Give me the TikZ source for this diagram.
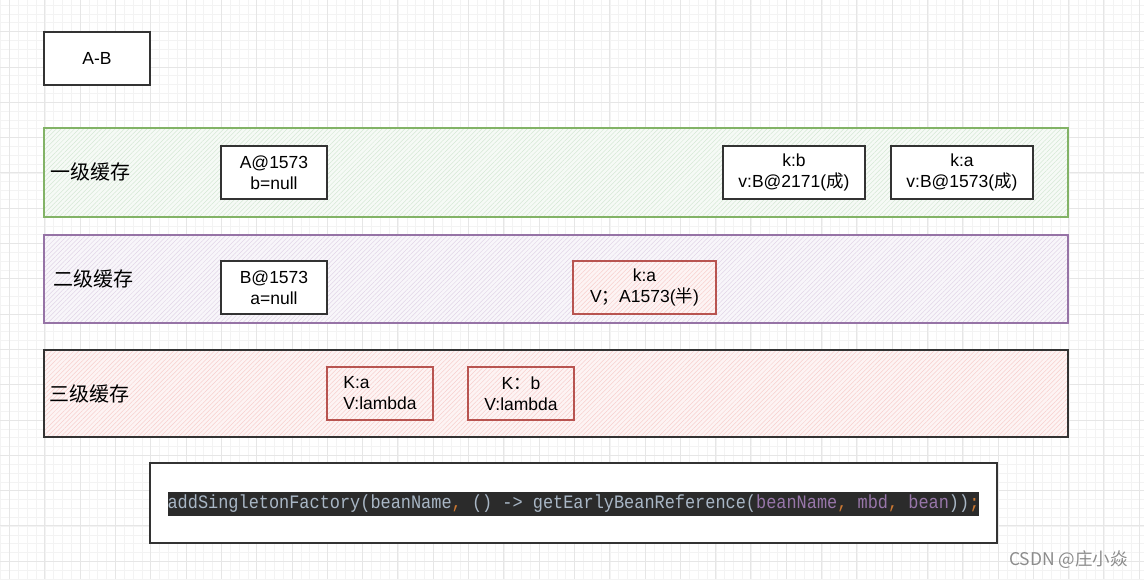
\documentclass[tikz,border=0pt]{standalone}
\usepackage{fontspec}
\setmainfont{Liberation Sans}
\newfontfamily\cjkfont{Noto Sans CJK SC}
\newfontfamily\codefont[FakeStretch=0.89]{Liberation Mono}
\usetikzlibrary{patterns.meta}

\definecolor{gridminor}{HTML}{F3F3F3}
\definecolor{gridmajor}{HTML}{E6E6E6}
\definecolor{greenline}{HTML}{82B366}
\definecolor{greenhatch}{HTML}{D5E8D4}
\definecolor{purpleline}{HTML}{9673A6}
\definecolor{purplehatch}{HTML}{E1D5E7}
\definecolor{redline}{HTML}{B85450}
\definecolor{redhatch}{HTML}{F8CECC}
\definecolor{boxline}{HTML}{333333}
\definecolor{codebg}{HTML}{2B2B2B}
\definecolor{codefg}{HTML}{A9B7C6}
\definecolor{codeorange}{HTML}{CC7832}
\definecolor{codepurple}{HTML}{9876AA}

\tikzset{
  cellbox/.style={draw=boxline,line width=1.2pt,fill=white,inner sep=0pt,
    minimum height=53,align=center,font=\fontsize{17.5}{21}\selectfont},
  hatched/.style={preaction={fill=#1!22},
    preaction={pattern={Lines[angle=45,distance=3.2pt,line width=0.5pt]},pattern color=#1}},
  redbox/.style={cellbox,draw=redline,fill=none,hatched=redhatch},
  band/.style={line width=1.3pt,inner sep=0pt,minimum width=1024,hatched=#1},
  bandlabel/.style={anchor=west,inner sep=0pt,font=\cjkfont\fontsize{20}{24}\selectfont},
}

\begin{document}
\begin{tikzpicture}[x=1pt,y=-1pt]
\path[use as bounding box] (0,0) rectangle (1144,579);
\fill[white] (0,0) rectangle (1144,579);
% grid
\foreach \i in {0,...,129} \draw[gridminor,line width=0.7pt] ({0.7+8.83*\i},0) -- ++(0,579);
\foreach \i in {0,...,66} \draw[gridminor,line width=0.7pt] (0,{5.1+8.83*\i}) -- ++(1144,0);
\foreach \i in {0,...,32} \draw[gridmajor,line width=0.7pt] ({9.5+35.3*\i},0) -- ++(0,579);
\foreach \i in {0,...,17} \draw[gridmajor,line width=0.7pt] (0,{-3.7+35.3*\i}) -- ++(1144,0);

\node[cellbox,minimum width=106] (ab) at (97,58.5) {A-B};

% cache levels
\node[band=greenhatch,draw=greenline,minimum height=89] (level1) at (556,172.5) {};
\node[band=purplehatch,draw=purpleline,minimum height=88] (level2) at (556,279) {};
\node[band=redhatch,draw=boxline,minimum height=87] (level3) at (556,393.5) {};

\node[bandlabel] (label1) at (50,172) {一级缓存};
\node[bandlabel] (label2) at (53,279) {二级缓存};
\node[bandlabel] (label3) at (49,394) {三级缓存};

\node[cellbox,minimum width=106] (a1573) at (274,172.5) {A@1573\\b=null};
\node[cellbox,minimum width=142] (kb) at (794,172.5) {k:b\\v:B@2171({\cjkfont 成})};
\node[cellbox,minimum width=142] (ka) at (962,172.5) {k:a\\v:B@1573({\cjkfont 成})};

\node[cellbox,minimum width=106] (b1573) at (274,287.5) {B@1573\\a=null};
\node[redbox,minimum width=143] (kahalf) at (644.5,287.5) {k:a\\V{\cjkfont ；}A1573({\cjkfont 半})};

\node[redbox,minimum width=106,align=left] (kalambda) at (380,393.5) {K:a\\V:lambda};
\node[redbox,minimum width=106] (kblambda) at (521,393.5) {K{\cjkfont ：}b\\V:lambda};

% code
\node[cellbox,minimum width=847,minimum height=80] (codebox) at (573.5,503) {};
\node[fill=codebg,inner sep=0pt,minimum width=811,minimum height=24,font=\codefont\fontsize{19}{22}\selectfont]
  (code) at (573.5,504) {\textcolor{codefg}{addSingletonFactory(beanName}\textcolor{codeorange}{,} \textcolor{codefg}{() -> getEarlyBeanReference(}\textcolor{codepurple}{beanName}\textcolor{codeorange}{,} \textcolor{codepurple}{mbd}\textcolor{codeorange}{,} \textcolor{codepurple}{bean}\textcolor{codefg}{))}\textcolor{codeorange}{;}};

\node[anchor=east,inner sep=0pt,text=black!45,font=\cjkfont\fontsize{17.5}{20}\selectfont] (mark) at (1128,560) {CSDN @庄小焱};
\end{tikzpicture}
\end{document}
